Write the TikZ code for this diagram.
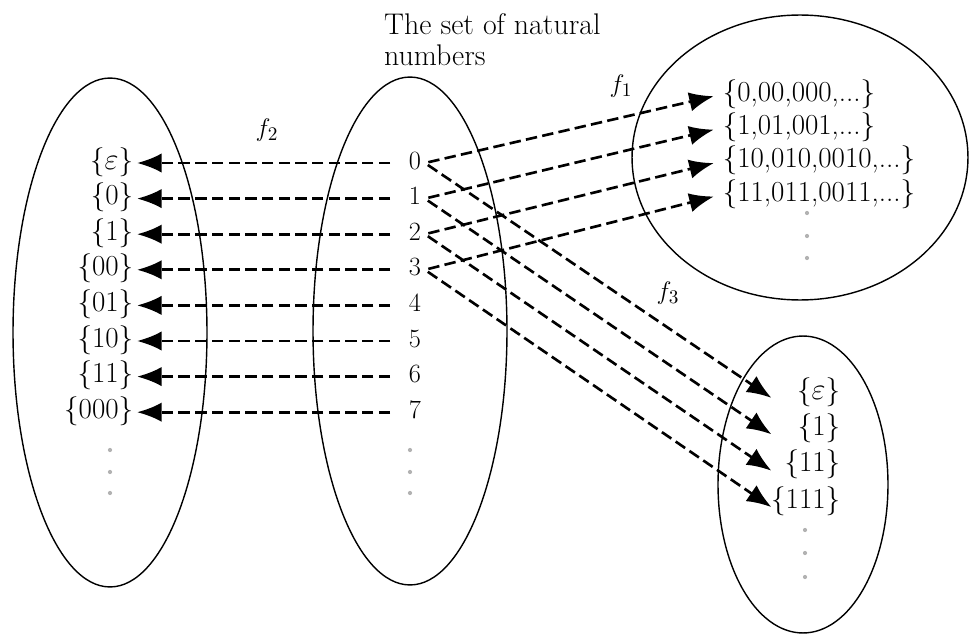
\documentclass[tikz,border=0pt]{standalone}
\usetikzlibrary{arrows.meta}

\begin{document}
\begin{tikzpicture}[x=0.02cm, y=-0.02cm, >={Latex[length=14pt,width=11pt]},
      font=\fontsize{15}{18}\selectfont,
      set/.style={draw, line width=0.8pt},
      lbl/.style={inner sep=2pt, text height=11pt, text depth=4pt,
                  font=\fontsize{16.5}{18}\selectfont},
      num/.style={lbl, font=\fontsize{15}{18}\selectfont},
      arr/.style={->, line width=1.5pt, dash pattern=on 6.5pt off 3pt},
      dot/.style={fill=gray!60}
    ]
    \useasboundingbox (0,0) rectangle (971,635);

    % the four sets
    \draw[set] (110,332.5) ellipse [x radius=1.94cm, y radius=5.09cm];
    \draw[set] (410,331) ellipse [x radius=1.94cm, y radius=5.08cm];
    \draw[set] (800,157.5) ellipse [x radius=3.36cm, y radius=2.85cm];
    \draw[set] (803,484.5) ellipse [x radius=1.70cm, y radius=2.97cm];

    \node[anchor=north west, align=left, font=\fontsize{17}{18}\selectfont]
          (title) at (378,7) {The set of natural\\numbers};

    % f2: natural numbers to singletons
    \foreach \i/\s in {0/$\varepsilon$,1/0,2/1,3/00,4/01,5/10,6/11,7/000} {
      \node[num] (n\i) at (415,163+35.6*\i) {\i};
      \node[lbl, anchor=east] (l\i) at (137,163+35.6*\i) {\{\s\}};
      \draw[arr, shorten <=8.5pt] (n\i.west) -- (l\i.east);
    }

    % f1 and f3
    \foreach \i/\s/\t in {0/{\{0,00,000,...\}}/{\{$\varepsilon$\}},
                          1/{\{1,01,001,...\}}/{\{1\}},
                          2/{\{10,010,0010,...\}}/{\{11\}},
                          3/{\{11,011,0011,...\}}/{\{111\}}} {
      \node[lbl, anchor=west] (t\i) at (719,95+33.4*\i) {\s};
      \draw[arr, shorten <=2pt, shorten >=3pt] (n\i.east) -- (t\i.west);
      \node[lbl, anchor=east, text width=41pt, align=right] (s\i)
            at (844,393+36.4*\i) {\t};
      \draw[arr, shorten <=2pt, shorten >=-5pt] (n\i.east) -- (s\i.west);
    }

    \node (f1) at (621,86) {$f_1$};
    \node (f2) at (267,130) {$f_2$};
    \node (f3) at (668,293) {$f_3$};

    % dots
    \foreach \y in {450,472,493} {
      \fill[dot] (110,\y) circle (1.2pt);
      \fill[dot] (410,\y) circle (1.2pt);
    }
    \foreach \y in {213,236,258} \fill[dot] (807,\y) circle (1.2pt);
    \foreach \y in {530,553,577} \fill[dot] (805,\y) circle (1.2pt);
  \end{tikzpicture}
\end{document}
